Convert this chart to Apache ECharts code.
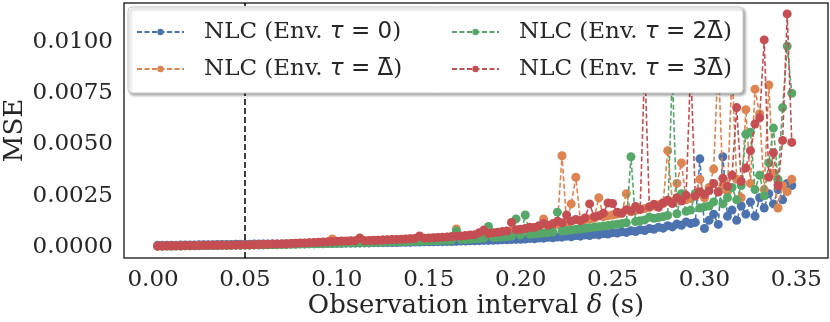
<!DOCTYPE html>
<html>
<head>
<meta charset="utf-8">
<script src="https://cdn.jsdelivr.net/npm/echarts@6/dist/echarts.min.js"></script>
<style>
  html, body { margin: 0; padding: 0; background: #fff; }
  #main { width: 830px; height: 322px; }
</style>
</head>
<body>
<div id="main"></div>
<script>
// observation interval (s)
var intervals = [
  0.0025,0.005,0.0075,0.01,0.0125,0.015,0.0175,0.02,0.0225,0.025,0.0275,0.03,0.0325,0.035,0.0375,0.04,0.0425,0.045,0.0475,0.05,
  0.0525,0.055,0.0575,0.06,0.0625,0.065,0.0675,0.07,0.0725,0.075,0.0775,0.08,0.0825,0.085,0.0875,0.09,0.0925,0.095,0.0975,0.1,
  0.1025,0.105,0.1075,0.11,0.1125,0.115,0.1175,0.12,0.1225,0.125,0.1275,0.13,0.1325,0.135,0.1375,0.14,0.1425,0.145,0.1475,0.15,
  0.1525,0.155,0.1575,0.16,0.1625,0.165,0.1675,0.17,0.1725,0.175,0.1775,0.18,0.1825,0.185,0.1875,0.19,0.1925,0.195,0.1975,0.2,
  0.2025,0.205,0.2075,0.21,0.2125,0.215,0.2175,0.22,0.2225,0.225,0.2275,0.23,0.2325,0.235,0.2375,0.24,0.2425,0.245,0.2475,0.25,
  0.2525,0.255,0.2575,0.26,0.2625,0.265,0.2675,0.27,0.2725,0.275,0.2775,0.28,0.2825,0.285,0.2875,0.29,0.2925,0.295,0.2975,0.3,
  0.3025,0.305,0.3075,0.31,0.3125,0.315,0.3175,0.32,0.3225,0.325,0.3275,0.33,0.3325,0.335,0.3375,0.34,0.3425,0.345,0.3475
];

// MSE, in units of 1e-4
var mseTau0 = [
  0.8,0.8,0.9,0.9,0.9,1.0,1.0,1.0,1.0,1.1,1.1,1.1,1.1,1.2,1.2,1.2,1.2,1.3,1.3,1.3,
  1.3,1.4,1.4,1.4,1.4,1.5,1.5,1.5,1.5,1.6,1.6,1.6,1.6,1.7,1.7,1.7,1.7,1.8,1.8,1.8,
  1.8,1.9,1.9,1.9,2.0,2.0,2.0,2.1,2.1,2.1,2.2,2.2,2.2,2.3,2.3,2.3,2.4,2.4,2.5,2.5,
  2.5,2.6,2.6,2.7,2.7,2.8,2.9,2.9,3.0,3.0,3.1,3.2,3.2,3.3,3.4,3.5,3.5,3.6,3.7,3.8,
  3.9,4.2,4.0,4.4,4.3,4.7,4.5,4.9,4.8,5.3,5.0,5.6,5.3,5.9,5.6,6.2,5.9,6.5,6.3,7.0,
  6.8,7.4,7.1,7.9,7.5,8.4,8.0,9.0,8.6,9.6,9.2,10.4,9.8,11.2,10.6,12.2,11.4,12,43,9,
  13,16,11,44,15,18,13,20,16,22,15,24,19,26,21,28,23,31,30
];
var mseTau1 = [
  0.4,0.5,0.5,0.5,0.6,0.6,0.6,0.6,0.7,0.7,0.7,0.7,0.8,0.8,0.8,0.8,0.9,0.9,0.9,1.0,
  1.0,1.0,1.1,1.1,1.2,1.3,1.3,1.4,1.5,1.5,1.6,1.7,1.8,1.9,2.0,2.1,2.2,2.3,3.9,2.6,
  2.6,2.7,2.8,2.9,3.0,3.0,3.1,3.2,3.3,3.4,3.4,3.5,3.6,3.7,3.8,3.9,4.0,4.1,4.2,4.3,
  4.4,4.5,4.6,4.7,4.8,8.8,5.0,5.2,5.4,5.6,5.8,6.0,6.3,6.6,6.9,7.2,7.5,7.8,8.1,8.4,
  8.6,9.0,9.4,9.6,13.7,10.2,10.6,11.0,44.5,11.6,21,34,12.8,13.2,13.6,14.0,24,14.8,15.2,15.6,
  16.0,16.6,26,17.2,17.8,18.2,18.8,19.4,20.0,20.6,21.2,47,22,31,41,23.0,23.6,26,33,24,
  29,38,92,30,27,86,33,24,67,31,77,65,28,79,36,19,30,27,33
];
var mseTau2 = [
  0.4,0.4,0.5,0.5,0.5,0.5,0.6,0.6,0.6,0.6,0.7,0.7,0.7,0.7,0.8,0.8,0.8,0.8,0.9,0.9,
  0.9,1.0,1.0,1.0,1.1,1.1,1.1,1.2,1.2,1.3,1.3,1.4,1.4,1.5,1.5,1.6,1.6,1.7,1.7,1.8,
  1.8,1.9,1.9,2.0,2.0,2.1,2.1,2.2,2.3,2.3,2.4,2.4,2.5,2.6,2.6,2.7,2.8,2.8,2.9,3.0,
  3.0,3.1,3.2,3.3,3.4,7.8,3.6,3.7,3.8,4.0,4.1,4.3,10,4.6,4.8,4.9,5.1,5.3,13.7,5.8,
  15.6,6.2,6.4,6.6,6.8,7.0,7.3,17,7.8,8.0,8.3,8.6,8.8,9.1,9.4,9.6,9.9,10.2,10.5,10.8,
  11.1,11.4,11.8,44,12.4,12.8,13.2,14.6,14.0,14.4,14.8,15.4,85,16.2,26,17.4,18.0,26,19.0,19.6,
  20,22,27,21,24,29,23,30,55,56,28,35,25,41,58,33,68,98,75
];
var mseTau3 = [
  0.5,0.5,0.6,0.6,0.6,0.6,0.7,0.7,0.7,0.7,0.8,0.8,0.8,0.8,0.9,0.9,0.9,1.0,1.0,1.0,
  1.1,1.1,1.2,1.3,1.3,1.4,1.5,1.5,1.6,1.7,1.8,1.9,2.0,2.1,2.2,2.3,2.4,2.5,2.7,2.8,
  2.9,2.9,3.0,3.1,4.4,3.1,3.2,3.3,3.3,3.4,3.5,3.6,3.7,3.8,3.9,4.0,4.1,5.4,4.3,4.4,
  4.5,4.6,4.8,4.9,5.1,5.2,5.4,5.6,5.8,6.0,7.0,8.3,6.6,6.9,7.2,7.5,7.8,12.0,8.4,8.7,
  9.0,9.6,9.5,10.4,11.5,10.6,11.4,12.6,11.8,15.6,12.6,13.4,12.8,14.2,21.0,14.8,15.2,16.4,21.5,21.2,
  17.0,16.4,18.2,17.6,19.8,18.4,90,19.6,20.8,19.4,21.6,22.8,21.2,24.0,22.4,25.2,88,24.8,27.0,25.6,
  27.4,31.0,26.8,33.5,29.6,35.0,68,32.0,38.5,47,60,63,101,34,46,30,52,113.7,51
];

// tau values: prefix + Delta-bar flag
var tauPrefix = ['0', '', '2', '3'];
var tauHasBar = [false, true, true, true];
var seriesNames = ['NLC (Env. τ = 0)', 'NLC (Env. τ = \u0394\u0304)', 'NLC (Env. τ = 2\u0394\u0304)', 'NLC (Env. τ = 3\u0394\u0304)'];
var colors = ['#4C72B0', '#DD8452', '#55A868', '#C44E52'];
var xTicks = [0, 0.05, 0.10, 0.15, 0.20, 0.25, 0.30, 0.35];
var yTicks = [0, 25, 50, 75, 100]; // 1e-4 units
var refInterval = 0.05;

var myChart = echarts.init(document.getElementById('main'), null, { renderer: 'canvas' });

var allMse = [mseTau0, mseTau1, mseTau2, mseTau3];
var series = [];
for (let i = 0; i < allMse.length; i++) {
    let pts = [];
    for (let j = 0; j < intervals.length; j++) {
        pts.push([intervals[j], allMse[i][j]]);
    }
    let s = {
        name: seriesNames[i],
        type: 'line',
        data: pts,
        symbol: 'circle',
        symbolSize: 9,
        showAllSymbol: true,
        color: colors[i],
        itemStyle: { color: colors[i] },
        lineStyle: { color: colors[i], width: 1.6, type: [5, 2.5] },
        emphasis: { disabled: true },
        z: 2 + i
    };
    if (i === allMse.length - 1) {
        // dashed reference line at delta = 0.05
        s.markLine = {
            symbol: 'none',
            silent: true,
            label: { show: false },
            lineStyle: { color: '#000', type: [6, 3], width: 1.5 },
            data: [{ xAxis: refInterval }]
        };
    }
    series.push(s);
}

var serif = 'DejaVu Serif';
var ink = '#262626';
var FS = 23;
var legendRich = {
    t: { fontFamily: serif, fontSize: FS, color: ink, padding: [0, 0, 0, 15] },
    m: { fontFamily: 'DejaVu Sans', fontStyle: 'italic', fontSize: FS, color: ink },
    s: { fontFamily: 'DejaVu Sans', fontSize: FS, color: ink },
    p: { fontFamily: serif, fontSize: FS, color: ink }
};
function legendFmt(name) {
    let i = seriesNames.indexOf(name);
    return '{t|NLC (Env. }{m|τ}{s| = ' + tauPrefix[i] + (tauHasBar[i] ? '\u0394' : '') + '}{p|)}';
}
var legendLefts = [131, 446];
var legendTop = 14, rowH = 26, rowGap = 11;
function makeLegend(names, left) {
    return {
        show: true,
        orient: 'vertical',
        left: left,
        top: legendTop,
        itemWidth: 47,
        itemHeight: 8,
        itemGap: rowGap,
        data: names,
        formatter: legendFmt,
        textStyle: { lineHeight: rowH, rich: legendRich },
        selectedMode: false,
        z: 30
    };
}

// canvas text drops the combining macron, so draw the bar over Delta as a small rect
var mctx = document.createElement('canvas').getContext('2d');
function textW(font, s) { mctx.font = font; return mctx.measureText(s).width; }
var graphics = [{
    type: 'rect',
    z: 20,
    shape: { x: 128, y: 7, width: 615, height: 86, r: 4 },
    style: {
        fill: '#fff', stroke: '#cccccc', lineWidth: 1,
        shadowBlur: 3, shadowOffsetX: 2, shadowOffsetY: 2, shadowColor: 'rgba(0,0,0,0.35)'
    }
}];
for (let i = 0; i < seriesNames.length; i++) {
    if (!tauHasBar[i]) continue;
    let col = i < 2 ? 0 : 1, row = i % 2;
    let x0 = legendLefts[col] + 5 + 47 + 5 + 15;
    x0 += textW(FS + 'px "DejaVu Serif"', 'NLC (Env. ');
    x0 += textW('italic ' + FS + 'px "DejaVu Sans"', 'τ');
    x0 += textW(FS + 'px "DejaVu Sans"', ' = ' + tauPrefix[i]);
    let dw = textW(FS + 'px "DejaVu Sans"', '\u0394');
    let cy = legendTop + 5 + row * (rowH + rowGap) + rowH / 2;
    graphics.push({
        type: 'rect', z: 40, silent: true,
        shape: { x: x0 + dw / 2 - 5.5, y: cy - 12, width: 11, height: 1.6 },
        style: { fill: ink }
    });
}

myChart.setOption({
    animation: false,
    backgroundColor: '#fff',
    grid: {
        left: 124, top: 3, width: 704, height: 255,
        outerBoundsMode: 'none',
        containLabel: false,
        show: true, borderColor: '#333', borderWidth: 1.5,
        backgroundColor: 'transparent'
    },
    legend: [
        makeLegend([seriesNames[0], seriesNames[1]], legendLefts[0]),
        makeLegend([seriesNames[2], seriesNames[3]], legendLefts[1])
    ],
    graphic: graphics,
    xAxis: {
        type: 'value',
        min: -0.0158,
        max: 0.3672,
        name: 'Observation interval {i|δ} (s)',
        nameLocation: 'middle',
        nameGap: 35,
        nameMoveOverlap: false,
        nameTextStyle: {
            fontFamily: serif, fontSize: 26, color: ink,
            rich: { i: { fontFamily: serif, fontStyle: 'italic', fontSize: 26, color: ink } }
        },
        axisLine: { show: false },
        axisTick: { show: false },
        splitLine: { show: false },
        axisLabel: {
            customValues: xTicks,
            margin: 11,
            fontFamily: serif, fontSize: FS, color: ink,
            formatter: function (v) { return v.toFixed(2); }
        }
    },
    yAxis: {
        type: 'value',
        min: -5.37,
        max: 119.02,
        name: 'MSE',
        nameLocation: 'middle',
        nameGap: 96,
        nameMoveOverlap: false,
        nameTextStyle: { fontFamily: serif, fontSize: 26, color: ink },
        axisLine: { show: false },
        axisTick: { show: false },
        splitLine: { show: false },
        axisLabel: {
            customValues: yTicks,
            margin: 11,
            fontFamily: serif, fontSize: FS, color: ink,
            formatter: function (v) { return (v / 10000).toFixed(4); }
        }
    },
    series: series
});
</script>
</body>
</html>
